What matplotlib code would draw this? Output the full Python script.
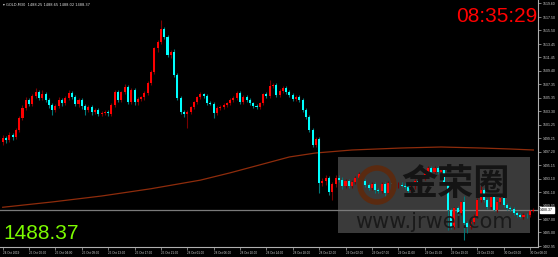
import matplotlib
matplotlib.use("Agg")
import matplotlib.pyplot as plt
from matplotlib.patches import Rectangle, Circle

# ---------------- data ----------------
opens = [1498.7,1499.3,1499.0,1499.7,1499.4,1500.5,1502.3,1503.8,1505.0,1504.4,
         1505.6,1506.2,1505.3,1505.9,1505.0,1504.2,1503.5,1504.1,1505.0,1504.5,
         1505.3,1506.1,1505.5,1504.4,1505.0,1504.1,1503.5,1503.9,1503.2,1503.5,
         1502.9,1503.0,1503.2,1502.9,1504.2,1506.2,1505.0,1506.2,1507.0,1504.7,
         1506.5,1504.7,1505.2,1505.4,1506.1,1507.6,1509.2,1512.8,1513.8,1515.7,
         1514.5,1511.8,1512.2,1508.8,1505.3,1503.2,1502.9,1503.2,1503.9,1504.7,
         1505.5,1505.9,1505.6,1504.5,1504.4,1503.0,1503.8,1503.9,1504.2,1504.5,
         1505.0,1505.3,1506.1,1504.7,1505.5,1505.0,1504.5,1504.1,1503.9,1504.5,
         1505.9,1505.6,1507.1,1507.3,1505.8,1506.4,1506.8,1506.2,1505.8,1505.2,
         1505.5,1505.0,1503.5,1502.4,1500.5,1498.2,1499.1,1492.5,1492.8,1493.2,
         1491.1,1492.3,1493.2,1492.9,1492.0,1492.8,1492.0,1492.6,1493.2,1493.8,
         1492.8,1492.2,1491.7,1492.3,1491.4,1491.2,1492.3,1490.9,1492.5,1492.3,
         1492.1,1492.2,1492.0,1491.8,1491.3,1492.3,1492.8,1492.2,1493.2,1494.0,
         1494.7,1494.2,1494.8,1494.1,1494.6,1492.5,1488.4,1485.8,1488.7,1487.9,
         1489.6,1486.4,1485.8,1486.5,1487.5,1489.9,1491.4,1489.9,1488.8,1490.4,
         1488.4,1489.6,1490.2,1489.1,1488.7,1488.5,1488.0,1487.6,1487.4,1487.7,
         1487.6,1488.25]
highs = [1499.7,1499.6,1500.2,1500.0,1500.8,1502.6,1504.2,1505.5,1505.3,1505.9,
         1506.8,1506.5,1506.5,1506.2,1505.3,1504.5,1504.4,1505.5,1505.3,1505.6,
         1506.5,1506.4,1505.8,1505.3,1505.3,1504.4,1504.2,1504.2,1503.8,1503.8,
         1503.3,1503.5,1503.5,1504.5,1506.5,1506.5,1506.4,1507.4,1507.2,1506.8,
         1506.8,1505.5,1505.6,1506.4,1507.9,1509.5,1513.0,1514.1,1517.1,1516.0,
         1514.8,1512.5,1512.7,1509.1,1505.6,1503.5,1503.5,1504.1,1504.9,1505.6,
         1506.2,1506.1,1505.9,1504.9,1504.7,1504.1,1504.2,1504.5,1504.7,1505.3,
         1505.6,1506.4,1506.4,1505.8,1505.8,1505.3,1504.7,1504.4,1504.7,1506.1,
         1506.2,1508.0,1507.6,1507.6,1506.7,1507.1,1507.1,1506.5,1506.1,1505.8,
         1505.8,1505.3,1503.8,1502.7,1500.8,1499.4,1499.4,1493.2,1493.6,1493.5,
         1492.6,1493.6,1493.7,1493.4,1493.1,1493.1,1492.9,1493.5,1494.1,1494.1,
         1493.1,1492.5,1492.6,1492.6,1491.7,1492.6,1492.6,1492.8,1492.9,1492.8,
         1492.6,1492.6,1492.4,1492.2,1492.6,1493.1,1493.1,1493.6,1494.4,1495.0,
         1495.0,1495.1,1495.0,1494.9,1494.9,1492.8,1488.7,1488.9,1489.0,1489.8,
         1490.5,1486.7,1486.8,1487.8,1490.2,1492.0,1491.7,1490.2,1490.6,1490.7,
         1489.9,1490.6,1490.5,1489.4,1489.0,1488.8,1488.3,1487.9,1487.9,1488.0,
         1488.4,1488.65]
lows = [1498.2,1498.5,1498.7,1499.0,1499.1,1500.2,1502.0,1503.5,1504.1,1504.1,
        1505.3,1505.0,1505.0,1504.7,1503.8,1502.7,1503.2,1503.8,1504.1,1504.2,
        1505.0,1505.2,1504.1,1503.9,1503.6,1502.7,1503.2,1502.7,1502.9,1502.6,
        1502.6,1502.7,1502.6,1502.6,1504.0,1504.7,1504.7,1505.9,1504.4,1504.4,
        1504.2,1504.2,1504.8,1505.0,1505.8,1507.3,1508.9,1512.3,1513.5,1514.2,
        1511.5,1511.3,1508.5,1505.0,1502.9,1502.4,1500.8,1502.9,1503.6,1504.4,
        1505.2,1505.3,1504.2,1504.2,1502.3,1502.7,1503.5,1503.6,1503.9,1504.2,
        1504.7,1505.0,1504.4,1504.4,1504.7,1504.2,1503.8,1503.6,1503.6,1504.2,
        1505.3,1505.3,1506.8,1505.5,1505.5,1506.1,1505.9,1505.5,1504.9,1504.9,
        1504.7,1503.2,1502.2,1500.2,1497.9,1497.9,1491.0,1492.0,1492.2,1490.7,
        1489.9,1491.9,1492.6,1491.6,1491.7,1491.7,1491.7,1492.3,1492.9,1492.5,
        1491.9,1491.4,1491.4,1490.9,1490.9,1490.9,1490.3,1490.6,1492.0,1491.9,
        1491.7,1491.8,1491.6,1491.0,1491.0,1491.6,1491.9,1491.9,1492.9,1493.7,
        1493.9,1493.9,1493.8,1493.5,1492.2,1485.4,1485.5,1485.5,1487.6,1487.6,
        1483.9,1484.9,1485.5,1486.2,1487.2,1489.6,1489.6,1488.6,1488.5,1488.2,
        1488.1,1489.3,1488.9,1488.4,1488.3,1487.7,1487.3,1487.2,1487.1,1487.2,
        1487.3,1488.02]
closes = [1499.3,1499.0,1499.7,1499.4,1500.5,1502.3,1503.8,1505.0,1504.4,1505.6,
          1506.2,1505.3,1505.9,1505.0,1504.2,1503.5,1504.1,1505.0,1504.5,1505.3,
          1506.1,1505.5,1504.4,1505.0,1504.1,1503.5,1503.9,1503.2,1503.5,1502.9,
          1503.0,1503.2,1503.0,1504.2,1506.2,1505.0,1506.2,1507.0,1504.7,1506.5,
          1504.7,1505.2,1505.4,1506.1,1507.6,1509.2,1512.8,1513.8,1515.7,1514.5,
          1511.8,1512.2,1508.8,1505.3,1503.2,1502.9,1503.2,1503.9,1504.7,1505.5,
          1505.9,1505.6,1504.5,1504.4,1503.0,1503.8,1503.9,1504.2,1504.5,1505.0,
          1505.3,1506.1,1504.7,1505.5,1505.0,1504.5,1504.1,1503.9,1504.5,1505.9,
          1505.6,1507.1,1507.3,1505.8,1506.4,1506.8,1506.2,1505.8,1505.2,1505.5,
          1505.0,1503.5,1502.4,1500.5,1498.2,1499.1,1492.5,1492.8,1493.2,1491.1,
          1492.3,1493.2,1492.9,1492.0,1492.8,1492.0,1492.6,1493.2,1493.8,1492.8,
          1492.2,1491.7,1492.3,1491.4,1491.2,1492.3,1490.9,1492.5,1492.3,1492.1,
          1492.2,1492.0,1491.8,1491.3,1492.3,1492.8,1492.2,1493.2,1494.0,1494.7,
          1494.2,1494.8,1494.1,1494.6,1492.5,1488.4,1485.8,1488.7,1487.9,1489.6,
          1486.4,1485.8,1486.5,1487.5,1489.9,1491.4,1489.9,1488.8,1490.4,1488.4,
          1489.6,1490.2,1489.1,1488.7,1488.5,1488.0,1487.6,1487.4,1487.7,1487.6,
          1488.2,1488.37]

ma_bars = [0, 15, 30, 45, 60, 69, 78, 87, 95, 106, 121, 133, 145, 154, 161]
ma_values = [1488.8, 1489.6, 1490.5, 1491.6, 1492.9, 1494.0, 1495.2, 1496.4,
             1497.0, 1497.45, 1497.75, 1497.9, 1497.75, 1497.6, 1497.45]

x_tick_bars = list(range(0, 161, 8))
x_tick_labels = ["24 Oct 2019", "25 Oct 00:00", "25 Oct 04:00", "25 Oct 09:00",
                 "25 Oct 13:00", "25 Oct 17:00", "25 Oct 21:00", "28 Oct 01:00",
                 "28 Oct 06:00", "28 Oct 10:00", "28 Oct 14:00", "28 Oct 18:00",
                 "28 Oct 22:00", "29 Oct 02:00", "29 Oct 07:00", "29 Oct 11:00",
                 "29 Oct 15:00", "29 Oct 19:00", "29 Oct 23:00", "30 Oct 03:00",
                 "30 Oct 08:00"]
y_tick_values = [1519.60, 1517.50, 1515.50, 1513.45, 1511.45, 1509.40, 1507.35,
                 1505.35, 1503.30, 1501.25, 1499.25, 1497.20, 1495.15, 1493.10,
                 1491.10, 1489.05, 1487.00, 1485.00, 1482.95]
current_price = 1488.37
header_text = "GOLD,M30  1488.25 1488.65 1488.02 1488.37"
clock_text = "08:35:29"

# ---------------- figure ----------------
W, H = 558, 257
fig = plt.figure(figsize=(W / 100, H / 100), dpi=100, facecolor="black")
ax = fig.add_axes([0, 10 / H, 538 / W, 247 / H])
ax.set_facecolor("black")
ax.set_xlim(-0.82, 162.4)
ax.set_ylim(1482.8, 1520.1)

for s in ["top", "left"]:
    ax.spines[s].set_visible(False)
for s in ["right", "bottom"]:
    ax.spines[s].set_color("#b0b0b0")
    ax.spines[s].set_linewidth(0.8)

UP_BODY, UP_WICK = "#ff0000", "#7a0000"
DN_BODY, DN_WICK = "#00ffff", "#007878"

for i in range(len(closes)):
    o, h, l, c = opens[i], highs[i], lows[i], closes[i]
    up = c >= o
    ax.vlines(i, l, h, color=UP_WICK if up else DN_WICK, lw=0.8, zorder=2)
    bot = min(o, c)
    hgt = max(abs(c - o), 0.08)
    ax.bar(i, hgt, bottom=bot, width=0.62,
           color=UP_BODY if up else DN_BODY, linewidth=0, zorder=3)

ax.plot(ma_bars, ma_values, color="#8e2c0c", lw=0.9, zorder=2.5)
ax.axhline(current_price, color="#7a7a7a", lw=0.9, zorder=1.5)

small = ["Liberation Sans", "DejaVu Sans"]
# ticks
ax.yaxis.tick_right()
ax.set_yticks(y_tick_values)
ax.set_yticklabels([f"{v:.2f}" for v in y_tick_values], family=small)
ax.tick_params(axis="y", colors="#b0b0b0", labelcolor="#d0d0d0",
               length=2, width=0.5, labelsize=2.5, pad=1.2)
ax.set_xticks(x_tick_bars)
ax.set_xticklabels(x_tick_labels, family=small)
ax.tick_params(axis="x", colors="#b0b0b0", labelcolor="#d0d0d0",
               length=2, width=0.5, labelsize=2.2, pad=1.2)
for lab in ax.get_xticklabels():
    lab.set_horizontalalignment("left")

# current price box on the axis
ax.annotate(f"{current_price:.2f}", xy=(1.0, current_price),
            xycoords=("axes fraction", "data"), xytext=(1.6, 0),
            textcoords="offset points", ha="left", va="center",
            fontsize=2.5, color="black", family=small,
            bbox=dict(boxstyle="square,pad=0.2", fc="white", ec="white"))

# watermark
ax.add_patch(Rectangle((338 / W, (H - 233) / H), (530 - 338) / W, (233 - 157) / H,
                       transform=fig.transFigure, facecolor="#3a3a3a",
                       edgecolor="none", zorder=1))
fig.patches.append(Circle((377, H - 185), 17, transform=None, fill=False,
                          edgecolor="#5a2a10", lw=4, zorder=1.2))
fig.text(455 / W, (H - 185) / H, "金荣圈", family=["Noto Sans CJK SC", "DejaVu Sans"],
         fontsize=26, fontweight="bold", color="#141414", ha="center", va="center", zorder=1.3)
fig.text(434 / W, (H - 222) / H, "www.jrwei.com", family=["DejaVu Sans"],
         fontsize=15, color="#1a1a1a", ha="center", va="center", zorder=1.3)

# overlay texts
big = ["Liberation Sans", "DejaVu Sans"]
fig.text(3 / W, 1 - 5 / H, "\u25be " + header_text, fontsize=2.6, color="#e0e0e0",
         ha="left", va="center", family=["DejaVu Sans"])
fig.text(537 / W, 1 - 16.5 / H, clock_text, fontsize=15, color="#ff0000",
         ha="right", va="center", family=big)
fig.text(3 / W, 1 - 233.5 / H, f"{current_price:.2f}", fontsize=15, color="#7cfc00",
         ha="left", va="center", family=big)

fig.savefig("out.png", dpi=100, facecolor="black")
